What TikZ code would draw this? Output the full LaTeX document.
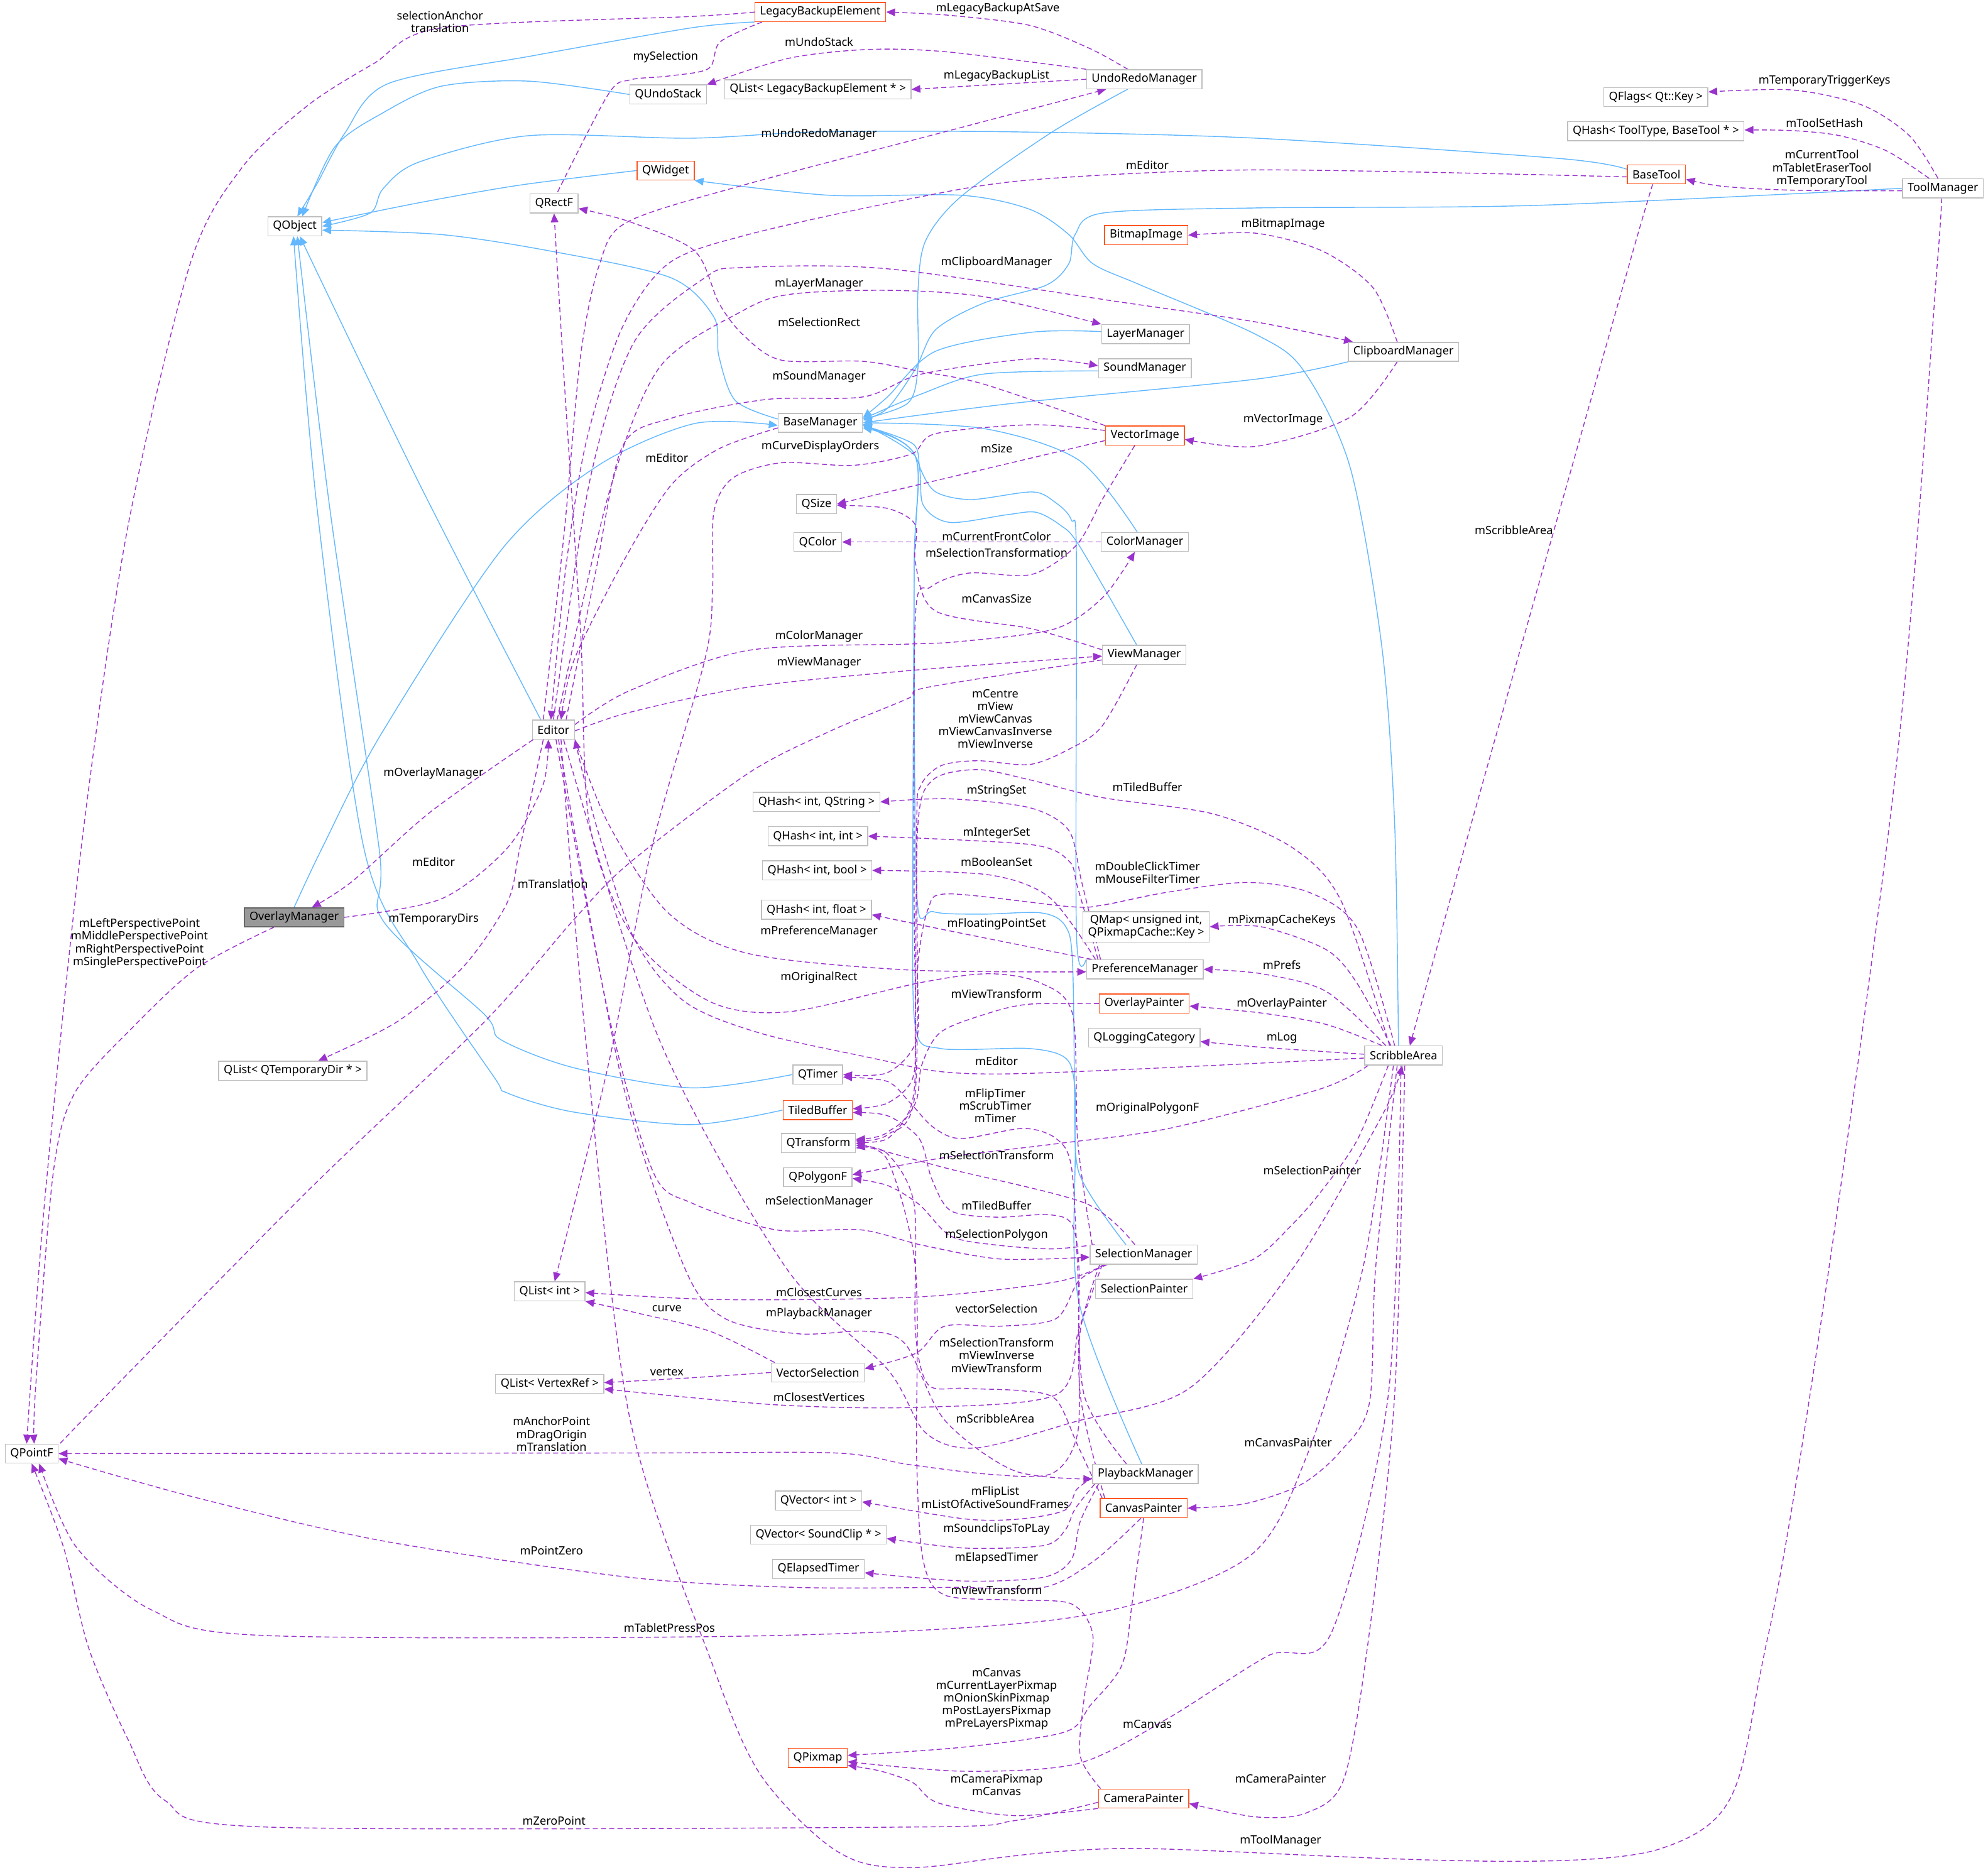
\documentclass[tikz,border=0pt]{standalone}
\usepackage{fontspec}
\setmainfont{Noto Sans}
\usetikzlibrary{arrows.meta}
\definecolor{inhblue}{HTML}{63B8FF}
\definecolor{usepurple}{HTML}{9A32CD}
\definecolor{boxgray}{HTML}{BFBFBF}
\definecolor{boxred}{HTML}{FF5722}
\definecolor{curfill}{HTML}{999999}
\definecolor{curdraw}{HTML}{666666}
\pgfdeclarelayer{edges}
\pgfsetlayers{edges,main}

\begin{document}
\begin{tikzpicture}[x=1pt,y=-1pt,
  cls/.style={draw=boxgray,fill=white,line width=0.7pt,inner xsep=4pt,inner ysep=0pt,
              minimum height=15pt,font=\fontsize{9}{10}\selectfont},
  undoc/.style={cls,draw=boxred},
  cur/.style={cls,fill=curfill,draw=curdraw},
  lbl/.style={font=\fontsize{9}{10}\selectfont,align=center,inner sep=0pt},
  inh/.style={draw=inhblue,line width=0.7pt,-{Triangle[length=7pt,width=6pt]}},
  use/.style={draw=usepurple,line width=0.7pt,dash pattern=on 4pt off 2.5pt,
              -{Triangle[length=7pt,width=6pt]}}]
\useasboundingbox (0,0) rectangle (1568,1473);

% classes
\node[undoc] (lbe) at (647,9.5) {LegacyBackupElement};
\node[cls] (qundostack) at (527,74.5) {QUndoStack};
\node[cls] (qlistlbe) at (645,70.5) {QList< LegacyBackupElement * >};
\node[cls] (undoredo) at (902.5,62.5) {UndoRedoManager};
\node[cls] (qflags) at (1306,76.5) {QFlags< Qt::Key >};
\node[cls] (qhashtool) at (1306,103.5) {QHash< ToolType, BaseTool * >};
\node[undoc] (basetool) at (1306.5,137.5) {BaseTool};
\node[cls] (toolmgr) at (1532.5,148.5) {ToolManager};
\node[undoc] (qwidget) at (525,134.5) {QWidget};
\node[cls] (qrectf) at (437,160.5) {QRectF};
\node[cls] (qobject) at (232.5,178.5) {QObject};
\node[undoc] (bitmapimage) at (904,185.5) {BitmapImage};
\node[cls] (layermgr) at (903.5,263.5) {LayerManager};
\node[cls] (clipmgr) at (1107,277.5) {ClipboardManager};
\node[cls] (soundmgr) at (903,290.5) {SoundManager};
\node[cls] (basemgr) at (647,333.5) {BaseManager};
\node[undoc] (vectorimage) at (903,343.5) {VectorImage};
\node[cls] (qsize) at (644,397.5) {QSize};
\node[cls] (qcolor) at (645,427.5) {QColor};
\node[cls] (colormgr) at (903,427.5) {ColorManager};
\node[cls] (viewmgr) at (902.5,516.5) {ViewManager};
\node[cls] (editor) at (436.5,575.5) {Editor};
\node[cls] (qhashstr) at (644,632.5) {QHash< int, QString >};
\node[cls] (qhashint) at (645,659.5) {QHash< int, int >};
\node[cls] (qhashbool) at (644.5,686.5) {QHash< int, bool >};
\node[cls] (qhashfloat) at (644,717.5) {QHash< int, float >};
\node[cur] (overlaymgr) at (232,723.5) {OverlayManager};
\node[cls,align=center,minimum height=24pt] (qmappix) at (904,731) {QMap< unsigned int,\\ QPixmapCache::Key >};
\node[cls] (prefmgr) at (903,764.5) {PreferenceManager};
\node[undoc] (overlaypainter) at (902.5,791.5) {OverlayPainter};
\node[cls] (qlogcat) at (902.5,818.5) {QLoggingCategory};
\node[cls] (scribble) at (1107,832.5) {ScribbleArea};
\node[cls] (qlisttmp) at (231,844.5) {QList< QTemporaryDir * >};
\node[cls] (qtimer) at (645,847.5) {QTimer};
\node[undoc] (tiledbuffer) at (645,875.5) {TiledBuffer};
\node[cls] (qtransform) at (645.5,901.5) {QTransform};
\node[cls] (qpolygonf) at (645,928.5) {QPolygonF};
\node[cls] (selmgr) at (902,989.5) {SelectionManager};
\node[cls] (qlistint) at (433.5,1018.5) {QList< int >};
\node[cls] (selpainter) at (902.5,1016.5) {SelectionPainter};
\node[cls] (vectorsel) at (645,1082.5) {VectorSelection};
\node[cls] (qlistvertex) at (433.5,1091.5) {QList< VertexRef >};
\node[cls] (qpointf) at (25,1146.5) {QPointF};
\node[cls] (playbackmgr) at (903.5,1162.5) {PlaybackManager};
\node[cls] (qvectorint) at (645.5,1183.5) {QVector< int >};
\node[undoc] (canvaspainter) at (902,1189.5) {CanvasPainter};
\node[cls] (qvectorsound) at (645.5,1210.5) {QVector< SoundClip * >};
\node[cls] (qelapsed) at (645.5,1237.5) {QElapsedTimer};
\node[undoc] (qpixmap) at (645,1386.5) {QPixmap};
\node[undoc] (camerapainter) at (902,1418.5) {CameraPainter};

% edge labels
\node[lbl] (lSelAnchor) at (347,17) {selectionAnchor\\translation};
\node[lbl] (lMySel) at (525,45) {mySelection};
\node[lbl] (lLegacySave) at (787,7) {mLegacyBackupAtSave};
\node[lbl] (lUndoStack) at (646,33) {mUndoStack};
\node[lbl] (lLegacyList) at (786,60) {mLegacyBackupList};
\node[lbl] (lUndoMgr) at (646,106) {mUndoRedoManager};
\node[lbl] (lEditorTool) at (905,130) {mEditor};
\node[lbl] (lTrigKeys) at (1439,64) {mTemporaryTriggerKeys};
\node[lbl] (lToolSet) at (1439,97) {mToolSetHash};
\node[lbl] (lCurTool) at (1437,133) {mCurrentTool\\mTabletEraserTool\\mTemporaryTool};
\node[lbl] (lBitmap) at (1012,177) {mBitmapImage};
\node[lbl] (lClip) at (786,207) {mClipboardManager};
\node[lbl] (lLayer) at (646,224) {mLayerManager};
\node[lbl] (lSelRect) at (646,254) {mSelectionRect};
\node[lbl] (lSound) at (646,297) {mSoundManager};
\node[lbl] (lVector) at (1012,331) {mVectorImage};
\node[lbl] (lCurve) at (647,352) {mCurveDisplayOrders};
\node[lbl] (lSize) at (786,354) {mSize};
\node[lbl] (lEditorBase) at (526,361) {mEditor};
\node[lbl] (lFront) at (786,423) {mCurrentFrontColor};
\node[lbl] (lSelTransf) at (786,436) {mSelectionTransformation};
\node[lbl] (lCanvasSize) at (786,472) {mCanvasSize};
\node[lbl] (lColor) at (646,502) {mColorManager};
\node[lbl] (lView) at (646,523) {mViewManager};
\node[lbl] (lCentre) at (785,567) {mCentre\\mView\\mViewCanvas\\mViewCanvasInverse\\mViewInverse};
\node[lbl] (lTiled) at (905,621) {mTiledBuffer};
\node[lbl] (lString) at (786,624) {mStringSet};
\node[lbl] (lInt) at (786,657) {mIntegerSet};
\node[lbl] (lBool) at (786,680) {mBooleanSet};
\node[lbl] (lTimers) at (905,688) {mDoubleClickTimer\\mMouseFilterTimer};
\node[lbl] (lTranslation) at (436,697) {mTranslation};
\node[lbl] (lOverlayMgr) at (342,610) {mOverlayManager};
\node[lbl] (lEditorOv) at (342,680) {mEditor};
\node[lbl] (lTmpDirs) at (342,725) {mTemporaryDirs};
\node[lbl] (lPersp) at (110,744) {mLeftPerspectivePoint\\mMiddlePerspectivePoint\\mRightPerspectivePoint\\mSinglePerspectivePoint};
\node[lbl] (lPixCache) at (1011,726) {mPixmapCacheKeys};
\node[lbl] (lPrefMgr) at (646,735) {mPreferenceManager};
\node[lbl] (lFloat) at (786,729) {mFloatingPointSet};
\node[lbl] (lPrefs) at (1011,761) {mPrefs};
\node[lbl] (lOrigRect) at (646,771) {mOriginalRect};
\node[lbl] (lViewTrOv) at (786,784) {mViewTransform};
\node[lbl] (lOvPainter) at (1011,792) {mOverlayPainter};
\node[lbl] (lLog) at (1011,819) {mLog};
\node[lbl] (lEditorSA) at (786,837) {mEditor};
\node[lbl] (lFlipTimer) at (785,872) {mFlipTimer\\mScrubTimer\\mTimer};
\node[lbl] (lOrigPoly) at (905,874) {mOriginalPolygonF};
\node[lbl] (lSelTr) at (786,911) {mSelectionTransform};
\node[lbl] (lSelPainter) at (1035,923) {mSelectionPainter};
\node[lbl] (lSelMgr) at (646,948) {mSelectionManager};
\node[lbl] (lTiledCP) at (786,951) {mTiledBuffer};
\node[lbl] (lSelPoly) at (786,974) {mSelectionPolygon};
\node[lbl] (lClosestC) at (646,1019) {mClosestCurves};
\node[lbl] (lCurveVS) at (526,1032) {curve};
\node[lbl] (lPlayback) at (646,1036) {mPlaybackManager};
\node[lbl] (lVecSel) at (786,1032) {vectorSelection};
\node[lbl] (lSelTr3) at (786,1069) {mSelectionTransform\\mViewInverse\\mViewTransform};
\node[lbl] (lVertex) at (526,1082) {vertex};
\node[lbl] (lClosestV) at (646,1102) {mClosestVertices};
\node[lbl] (lScribbleEd) at (785,1119) {mScribbleArea};
\node[lbl] (lAnchor) at (435,1131) {mAnchorPoint\\mDragOrigin\\mTranslation};
\node[lbl] (lCanvasP) at (1016,1138) {mCanvasPainter};
\node[lbl] (lFlipList) at (785,1181) {mFlipList\\mListOfActiveSoundFrames};
\node[lbl] (lSoundclips) at (786,1206) {mSoundclipsToPLay};
\node[lbl] (lPointZero) at (435,1223) {mPointZero};
\node[lbl] (lElapsed) at (786,1229) {mElapsedTimer};
\node[lbl] (lViewTrCam) at (786,1254) {mViewTransform};
\node[lbl] (lTablet) at (528,1284) {mTabletPressPos};
\node[lbl] (lPixmaps) at (786,1340) {mCanvas\\mCurrentLayerPixmap\\mOnionSkinPixmap\\mPostLayersPixmap\\mPreLayersPixmap};
\node[lbl] (lCanvasSA) at (905,1360) {mCanvas};
\node[lbl] (lCamP) at (1010,1403) {mCameraPainter};
\node[lbl] (lCamPix) at (786,1408) {mCameraPixmap\\mCanvas};
\node[lbl] (lZero) at (437,1436) {mZeroPoint};
\node[lbl] (lToolMgr) at (1010,1452) {mToolManager};
\node[lbl] (lScribbleTool) at (1194,418) {mScribbleArea};

\begin{pgfonlayer}{edges}
% inheritance
\draw[inh] plot[smooth] coordinates {(lbe.south west) (545,22) (420,44) (306,66) (272,105) (250,145) ([xshift=2pt]qobject.north)};
\draw[inh] plot[smooth] coordinates {(qundostack.west) (417,64) (348,68) (302,89) (264,116) ([xshift=6pt]qobject.north)};
\draw[inh] plot[smooth] coordinates {(qwidget.west) (410,146) (330,160) ([yshift=3pt]qobject.east)};
\draw[inh] plot[smooth] coordinates {([yshift=4pt]basetool.west) (1230,125) (991,109) (800,104) (646,104) (545,109) (417,107) (330,128) (302,149) (292,168) (qobject.east)};
\draw[inh] plot[smooth] coordinates {([yshift=3pt]basemgr.west) (580,316) (567,281) (563,250) (529,219) (434,198) (348,185) ([yshift=-3pt]qobject.east)};
\draw[inh] plot[smooth] coordinates {([xshift=-10pt]editor.north) (330,380) ([xshift=4pt]qobject.south)};
\draw[inh] plot[smooth] coordinates {(qtimer.west) (545,858) (452,842) (395,820) (382,800) (302,726) (299,669) (260,400) ([xshift=2pt]qobject.south)};
\draw[inh] plot[smooth] coordinates {(tiledbuffer.west) (545,887) (452,877) (400,862) (390,850) (330,760) (287,669) (250,400) ([xshift=-1pt]qobject.south)};
\draw[inh] plot[smooth] coordinates {(overlaymgr.north) (254,669) (300,580) (396,433) (472,367) (548,334) ([yshift=-2pt]basemgr.west)};
\draw[inh] plot[smooth] coordinates {([xshift=-13pt]undoredo.south) (830,104) (758,155) (730,190) (724,230) (724,290) (716,318) ([yshift=3pt]basemgr.east)};
\draw[inh] plot[smooth] coordinates {(toolmgr.west) (1211,162) (991,164) (870,168) (848,185) (843,208) (825,225) (776,239) (738,260) (722,291) (700,322) ([yshift=2pt]basemgr.east)};
\draw[inh] plot[smooth] coordinates {([yshift=2pt]layermgr.west) (814,262) (738,277) (700,313) ([yshift=4pt]basemgr.east)};
\draw[inh] plot[smooth] coordinates {([yshift=-2pt]soundmgr.west) (776,295) (726,311) ([yshift=3pt]basemgr.east)};
\draw[inh] plot[smooth] coordinates {(clipmgr.south west) (991,299) (800,318) (basemgr.east)};
\draw[inh] plot[smooth] coordinates {([xshift=-6pt]colormgr.north) (851,363) (776,338) (basemgr.east)};
\draw[inh] plot[smooth] coordinates {([xshift=-6pt]viewmgr.north) (851,430) (836,414) (817,404) (794,406) (749,412) (728,398) (722,360) ([yshift=-1pt]basemgr.east)};
\draw[inh] plot[smooth] coordinates {(prefmgr.north west) (849,735) (849,440) (845,410) (832,396) (814,388) (766,394) (738,388) (726,370) (720,350) ([yshift=-2pt]basemgr.east)};
\draw[inh] plot[smooth] coordinates {([xshift=-14pt]selmgr.north) (851,925) (848,860) (841,835) (812,827) (742,827) (722,810) (720,700) (721,450) (722,360) ([yshift=-3pt]basemgr.east)};
\draw[inh] plot[smooth] coordinates {([xshift=-3pt]playbackmgr.north) (851,1027) (848,900) (846,761) (840,730) (821,720) (774,721) (736,719) (723,704) (721,450) (722,360) ([yshift=-4pt]basemgr.east)};
\draw[inh] plot[smooth] coordinates {([xshift=-4pt]scribble.north) (1100,650) (1090,511) (1065,369) (1028,292) (991,264) (900,225) (862,208) (843,185) (812,165) (758,154) (654,154) (qwidget.south east)};

% usage
\draw[use] plot[smooth] coordinates {(lbe.west) (545,13) (348,22) (295,50) (243,83) (191,132) (150,208) (100,420) (64,669) (35,950) ([xshift=-4pt]qpointf.north)};
\draw[use] plot[smooth] coordinates {([xshift=6pt]lbe.south west) (568,33) (559,54) (527,60) (497,63) (480,74) (441,149) ([xshift=3pt]qrectf.north)};
\draw[use] plot[smooth] coordinates {([xshift=-13pt]undoredo.north) (859,38) (812,20) (748,12) (lbe.east)};
\draw[use] plot[smooth] coordinates {(undoredo.north west) (748,41) (685,39) (622,46) (qundostack.north east)};
\draw[use] (undoredo.west) -- (qlistlbe.east);
\draw[use] plot[smooth] coordinates {([xshift=-8pt]editor.north) (445,420) (458,280) (473,208) (495,175) (590,145) (764,99) ([xshift=-30pt]undoredo.south)};
\draw[use] plot[smooth] coordinates {([yshift=-2pt]basetool.west) (991,134) (812,142) (717,157) (590,185) (527,208) (490,260) (462,350) (446,450) ([xshift=-2pt]editor.north)};
\draw[use] plot[smooth] coordinates {(editor.north) (465,380) (500,270) (556,219) (586,211) (700,212) (889,239) (991,254) ([xshift=4pt]clipmgr.north west)};
\draw[use] plot[smooth] coordinates {([xshift=3pt]editor.north) (480,390) (520,290) (586,245) (624,232) (700,229) (776,234) (layermgr.north west)};
\draw[use] plot[smooth] coordinates {([xshift=10pt]editor.north) (470,450) (491,352) (529,330) (605,315) (681,313) (727,295) (814,283) ([yshift=2pt]soundmgr.west)};
\draw[use] plot[smooth] coordinates {([yshift=-4pt]basemgr.west) (567,354) (529,383) (491,444) (453,520) ([xshift=6pt]editor.north)};
\draw[use] plot[smooth] coordinates {([xshift=-5pt]clipmgr.north) (1083,227) (1043,198) (991,184) (bitmapimage.east)};
\draw[use] plot[smooth] coordinates {([xshift=-5pt]clipmgr.south) (1065,329) (991,352) ([yshift=-3pt]vectorimage.east)};
\draw[use] plot[smooth] coordinates {(vectorimage.north west) (776,303) (726,293) (681,285) (616,284) (586,264) (567,239) (548,198) (497,175) ([yshift=-4pt]qrectf.east)};
\draw[use] plot[smooth] coordinates {([yshift=4pt]vectorimage.west) (814,335) (738,342) (719,358) (673,367) (616,365) (578,377) (563,404) (562,465) (556,520) (514,669) (480,839) ([xshift=4pt]qlistint.north)};
\draw[use] ([yshift=-4pt]vectorimage.west) -- (qsize.east);
\draw[use] plot[smooth] coordinates {([yshift=4pt]viewmgr.west) (814,496) (738,482) (722,444) (722,414) (700,401) ([yshift=-1pt]qsize.east)};
\draw[use] (colormgr.west) -- (qcolor.east);
\draw[use] plot[smooth] coordinates {([xshift=-8pt]vectorimage.south) (870,393) (849,430) (814,453) (764,452) (734,463) (722,486) (721,700) (721,860) (700,893) ([yshift=3pt]qtransform.east)};
\draw[use] plot[smooth] coordinates {([yshift=4pt]editor.east) (496,545) (590,513) (716,508) (757,506) (832,496) (870,471) ([xshift=-8pt]colormgr.south)};
\draw[use] plot[smooth] coordinates {([yshift=-1pt]editor.east) (496,562) (590,542) (716,529) ([yshift=-1pt]viewmgr.west)};
\draw[use] plot[smooth] coordinates {([yshift=-4pt]viewmgr.west) (732,542) (716,551) (654,577) (590,610) (496,681) (452,726) (382,806) (243,939) (70,1115) ([yshift=6pt]qpointf.east)};
\draw[use] plot[smooth] coordinates {([xshift=-6pt]viewmgr.south) (869,573) (843,591) (812,603) (771,600) (742,604) (726,620) (723,651) (722,860) (700,895) ([yshift=2pt]qtransform.east)};
\draw[use] plot[smooth] coordinates {([xshift=-35pt]prefmgr.north) (853,695) (843,655) (812,637) (748,630) (qhashstr.east)};
\draw[use] plot[smooth] coordinates {([xshift=-37pt]prefmgr.north) (850,700) (843,679) (812,666) (qhashint.east)};
\draw[use] plot[smooth] coordinates {([xshift=-39pt]prefmgr.north) (828,708) (780,690) (qhashbool.east)};
\draw[use] plot[smooth] coordinates {([xshift=-42pt]prefmgr.north) (748,734) ([yshift=-4pt]qhashfloat.east)};
\draw[use] plot[smooth] coordinates {([xshift=-11pt]scribble.north) (1058,711) (1020,669) (957,642) (869,629) (812,615) (771,607) (736,615) (724,650) (722,800) (720,850) (700,870) ([yshift=1pt]tiledbuffer.east)};
\draw[use] plot[smooth] coordinates {([xshift=-7pt]scribble.north) (1071,733) (1033,704) (983,696) (919,704) (869,714) (843,715) (748,705) (732,717) (724,760) (723,820) (700,846) (qtimer.east)};
\draw[use] plot[smooth] coordinates {([xshift=-10pt]scribble.north) (1070,775) (1046,749) (995,731) (qmappix.east)};
\draw[use] plot[smooth] coordinates {([xshift=-14pt]scribble.north) (1046,782) (995,768) (prefmgr.east)};
\draw[use] plot[smooth] coordinates {([xshift=-17pt]scribble.north) (1046,808) (995,799) ([yshift=-2pt]overlaypainter.east)};
\draw[use] plot[smooth] coordinates {([yshift=1pt]scribble.west) (995,826) ([yshift=-3pt]qlogcat.east)};
\draw[use] plot[smooth] coordinates {([yshift=-2pt]scribble.west) (900,843) (793,847) (740,845) (690,835) (600,815) (540,790) (500,740) (470,650) (editor.south east)};
\draw[use] plot[smooth] coordinates {([xshift=3pt]scribble.south west) (1041,859) (922,890) (834,902) (745,913) ([yshift=2pt]qpolygonf.east)};
\draw[use] plot[smooth] coordinates {([xshift=-12pt]scribble.south) (1070,900) (1041,941) (1019,966) (989,993) (selpainter.north east)};
\draw[use] plot[smooth] coordinates {([xshift=-5pt]scribble.south) (1085,1000) (1080,1107) (1057,1145) (1026,1171) (982,1186) (canvaspainter.east)};
\draw[use] plot[smooth] coordinates {([xshift=-2pt]scribble.south) (1095,1100) (1050,1288) (1000,1306) (920,1356) (850,1391) (760,1397) ([yshift=-3pt]qpixmap.east)};
\draw[use] plot[smooth] coordinates {([xshift=1pt]scribble.south) (1100,1100) (1080,1288) (1060,1403) (1030,1430) (990,1433) ([yshift=-4pt]camerapainter.east)};
\draw[use] plot[smooth] coordinates {([xshift=-8pt]scribble.south) (1075,1000) (1030,1150) (982,1230) (850,1275) (610,1290) (210,1290) (120,1270) (60,1220) ([xshift=6pt]qpointf.south)};
\draw[use] plot[smooth] coordinates {([yshift=-3pt]camerapainter.west) (800,1436) (720,1441) (210,1441) (130,1420) (101,1372) (70,1300) (50,1220) (qpointf.south)};
\draw[use] plot[smooth] coordinates {([xshift=-2pt]canvaspainter.south) (863,1231) (823,1252) (752,1252) (628,1252) (496,1244) (300,1215) (150,1180) ([yshift=-4pt]qpointf.east)};
\draw[use] plot[smooth] coordinates {(canvaspainter.south) (893,1264) (885,1313) (860,1345) (840,1366) (760,1378) ([yshift=2pt]qpixmap.east)};
\draw[use] plot[smooth] coordinates {(camerapainter.south west) (800,1432) (740,1422) (720,1406) (695,1397) ([yshift=2pt]qpixmap.south east)};
\draw[use] plot[smooth] coordinates {([xshift=2pt]camerapainter.north west) (852,1385) (855,1340) (862,1290) (845,1265) (800,1262) (745,1258) (728,1230) (723,1150) (722,1000) (700,915) ([yshift=-4pt]qtransform.east)};
\draw[use] plot[smooth] coordinates {([xshift=6pt]editor.south) (460,800) (496,1115) (562,1313) (600,1400) (660,1460) (720,1473) (880,1458) (1310,1458) (1395,1288) (1491,644) (1528,208) ([xshift=-2pt]toolmgr.south)};
\draw[use] plot[smooth] coordinates {([xshift=8pt]editor.south) (520,820) (620,1000) (700,1080) (730,1130) (770,1142) (849,1121) (938,1095) (1020,1000) (1090,880) ([xshift=-1pt]scribble.south)};
\draw[use] plot[smooth] coordinates {([xshift=-16pt]editor.south) (340,640) (278,695) ([xshift=14pt]overlaymgr.north)};
\draw[use] plot[smooth] coordinates {(overlaymgr.east) (348,709) (400,669) (428,620) ([xshift=-4pt]editor.south)};
\draw[use] plot[smooth] coordinates {([xshift=-8pt]editor.south) (410,669) (400,712) (365,763) (313,806) ([xshift=20pt]qlisttmp.north)};
\draw[use] plot[smooth] coordinates {([xshift=-16pt]overlaymgr.south) (156,763) (104,811) (59,862) (42,925) (28,1096) ([xshift=2pt]qpointf.north)};
\draw[use] plot[smooth] coordinates {(editor.south east) (480,650) (527,720) (590,752) (716,765) ([yshift=-2pt]prefmgr.west)};
\draw[use] plot[smooth] coordinates {([xshift=2pt]editor.south) (480,800) (515,924) (546,949) (612,970) (679,970) (727,982) (789,993) ([yshift=-2pt]selmgr.west)};
\draw[use] plot[smooth] coordinates {([xshift=4pt]editor.south) (490,850) (540,1000) (572,1040) (630,1052) (683,1050) (714,1060) (745,1120) (800,1160) ([yshift=-4pt]playbackmgr.west)};
\draw[use] plot[smooth] coordinates {([xshift=-7pt]selmgr.north) (856,949) (745,921) (qtransform.east)};
\draw[use] plot[smooth] coordinates {([xshift=4pt]selmgr.north west) (830,985) (786,982) (750,975) (725,950) (700,935) ([yshift=-1pt]qpolygonf.east)};
\draw[use] plot[smooth] coordinates {([xshift=14pt]selmgr.south west) (851,1010) (833,1040) (789,1046) (745,1046) (723,1067) ([yshift=3pt]vectorsel.east)};
\draw[use] plot[smooth] coordinates {([xshift=12pt]selmgr.south west) (833,1011) (723,1023) (568,1025) ([yshift=-1pt]qlistint.east)};
\draw[use] plot[smooth] coordinates {([xshift=10pt]selmgr.south west) (851,1048) (833,1100) (723,1110) (612,1108) ([yshift=-4pt]qlistvertex.east)};
\draw[use] plot[smooth] coordinates {([xshift=3pt]vectorsel.north west) (560,1050) (500,1035) (qlistint.south east)};
\draw[use] plot[smooth] coordinates {(vectorsel.west) (540,1087) ([yshift=1pt]qlistvertex.east)};
\draw[use] plot[smooth] coordinates {([xshift=8pt]selmgr.south west) (852,1050) (850,1130) (830,1162) (783,1163) (716,1155) (659,1146) (496,1146) (qpointf.east)};
\draw[use] plot[smooth] coordinates {([xshift=2pt]selmgr.north west) (850,900) (846,800) (820,775) (780,768) (726,775) (622,798) (560,790) (500,740) (465,650) (458,500) (445,300) (qrectf.south)};
\draw[use] plot[smooth] coordinates {([xshift=-15pt]playbackmgr.north) (855,1100) (850,1000) (845,920) (833,898) (807,890) (758,898) (736,889) (718,870) (700,853) ([yshift=-2pt]qtimer.east)};
\draw[use] plot[smooth] coordinates {([yshift=-3pt]playbackmgr.west) (849,1175) (840,1191) (805,1198) (761,1198) ([yshift=-1pt]qvectorint.east)};
\draw[use] plot[smooth] coordinates {([xshift=2pt]playbackmgr.south west) (848,1190) (840,1207) (823,1219) (761,1221) ([yshift=-3pt]qvectorsound.east)};
\draw[use] plot[smooth] coordinates {([xshift=5pt]playbackmgr.south west) (852,1200) (845,1230) (823,1244) (761,1247) ([yshift=-3pt]qelapsed.east)};
\draw[use] plot[smooth] coordinates {([xshift=4pt]canvaspainter.north west) (852,1100) (851,1000) (845,965) (826,958) (786,960) (750,955) (735,930) (725,898) (700,880) ([yshift=-2pt]tiledbuffer.east)};
\draw[use] plot[smooth] coordinates {([xshift=2pt]canvaspainter.north west) (850,1140) (833,1104) (807,1097) (760,1095) (732,1092) (722,1050) (721,950) (700,910) ([yshift=-2pt]qtransform.east)};
\draw[use] plot[smooth] coordinates {(overlaypainter.west) (812,792) (780,799) (742,814) (727,840) (722,870) (700,898) ([yshift=1pt]qtransform.east)};
\draw[use] plot[smooth] coordinates {([xshift=-3pt]basetool.south) (1288,198) (1226,417) (1162,644) ([xshift=5pt]scribble.north)};
\draw[use] plot[smooth] coordinates {([xshift=-4pt]toolmgr.north) (1506,107) (1469,83) (1414,71) ([yshift=4pt]qflags.east)};
\draw[use] plot[smooth] coordinates {([xshift=-11pt]toolmgr.north) (1488,119) (1451,107) (1414,103) ([yshift=1pt]qhashtool.east)};
\draw[use] plot[smooth] coordinates {([yshift=-2pt]toolmgr.west) (1414,150) (1359,147) ([yshift=-4pt]basetool.east)};
\end{pgfonlayer}
\end{tikzpicture}
\end{document}
